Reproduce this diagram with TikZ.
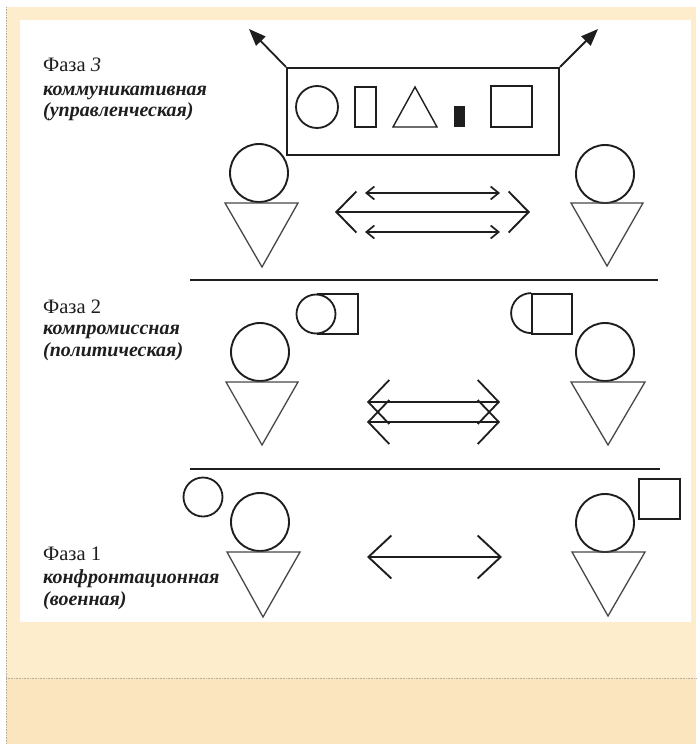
\documentclass[tikz,border=0pt]{standalone}
\usepackage{fontspec}
\setmainfont{Liberation Serif}
\usetikzlibrary{arrows.meta}
\definecolor{creamA}{HTML}{FEEDCD}
\definecolor{creamB}{HTML}{FBE5BF}
\definecolor{ink}{HTML}{1E1E1E}
\definecolor{trigray}{HTML}{474747}
\definecolor{frame}{HTML}{B8B0A0}
\begin{document}
\begin{tikzpicture}[x=1pt,y=-1pt,
  head/.style={circle,draw=ink,line width=1.9pt,fill=white,inner sep=0pt,minimum size=#1},
  head/.default=58pt,
  bodytri/.style={draw=trigray,line width=1.3pt,line join=miter},
  shp/.style={draw=ink,line width=1.8pt,inner sep=0pt},
  sepline/.style={draw=ink,line width=1.9pt},
  phase/.style={anchor=base west,inner sep=0pt,text=ink,font=\fontsize{20.5}{22}\selectfont},
  sub/.style={anchor=base west,inner sep=0pt,text=ink,font=\fontsize{20}{22}\selectfont\bfseries\itshape},
]
\useasboundingbox (0,0) rectangle (696,744);
% background
\fill[white] (0,0) rectangle (696,744);
\fill[creamA] (6,7) rectangle (696,678);
\fill[creamB] (6,678) rectangle (696,744);
\draw[frame,densely dotted,line width=0.6pt] (6,7) -- (6,744);
\draw[frame,densely dotted,line width=0.6pt] (6,678) -- (696,678);
\fill[white] (20,20) rectangle (691,622);

% ---------- labels ----------
\node[phase] (t3a) at (43,71) {Фаза \textit{3}};
\node[sub]   (t3b) at (43,95) {коммуникативная};
\node[sub]   (t3c) at (43,116) {(управленческая)};
\node[phase] (t2a) at (43,313) {Фаза 2};
\node[sub]   (t2b) at (43,334) {компромиссная};
\node[sub]   (t2c) at (43,356) {(политическая)};
\node[phase] (t1a) at (43,560) {Фаза 1};
\node[sub]   (t1b) at (43,583) {конфронтационная};
\node[sub]   (t1c) at (43,605) {(военная)};

% ---------- phase 3 ----------
\node[shp,line width=2.1pt,minimum width=272pt,minimum height=87pt] (box) at (423,111.5) {};
\coordinate (tipL) at (249,29);
\coordinate (tipR) at (598,29);
\draw[ink,line width=1.8pt,-{Triangle[length=17pt,width=13pt]}] (box.north west) -- (tipL);
\draw[ink,line width=1.8pt,-{Triangle[length=17pt,width=13pt]}] (box.north east) -- (tipR);
\node[shp,circle,minimum size=42pt] (b1) at (317,107) {};
\node[shp,minimum width=21pt,minimum height=40pt] (b2) at (365.5,107) {};
\coordinate (b3a) at (393,127); \coordinate (b3b) at (415,87); \coordinate (b3c) at (437,127);
\draw[draw=ink,line width=1.4pt] (b3a) -- (b3b) -- (b3c) -- cycle;
\node[fill=ink,inner sep=0pt,minimum width=11pt,minimum height=21pt] (b4) at (459,116) {};
\node[shp,minimum width=41pt,minimum height=41pt] (b5) at (511.5,106.5) {};

\node[head] (h3L) at (259,173) {};
\draw[bodytri] (225,203) -- (298,203) -- (262,267) -- cycle;
\node[head] (h3R) at (605,174) {};
\draw[bodytri] (571,203) -- (643,203) -- (607,266) -- cycle;

\coordinate (a3mL) at (335,212); \coordinate (a3mR) at (530,212);
\coordinate (a3tL) at (365,193); \coordinate (a3tR) at (500,193);
\coordinate (a3bL) at (365,232); \coordinate (a3bR) at (500,232);
\draw[ink,line width=1.9pt,{Straight Barb[length=20pt,width=41pt]}-{Straight Barb[length=20pt,width=41pt]}] (a3mL) -- (a3mR);
\draw[ink,line width=1.7pt,{Straight Barb[length=8pt,width=13pt]}-{Straight Barb[length=8pt,width=13pt]}] (a3tL) -- (a3tR);
\draw[ink,line width=1.7pt,{Straight Barb[length=8pt,width=13pt]}-{Straight Barb[length=8pt,width=13pt]}] (a3bL) -- (a3bR);

\coordinate (s1L) at (190,280); \coordinate (s1R) at (658,280);
\draw[sepline] (s1L) -- (s1R);

% ---------- phase 2 ----------
\node[shp,minimum width=40pt,minimum height=40pt] (q2L) at (338,314) {};
\node[shp,circle,fill=white,minimum size=39pt] (c2L) at (316,314) {};
\node[shp,minimum width=40pt,minimum height=40pt] (q2R) at (552,314) {};
\draw[ink,line width=1.8pt] (q2R.north west) arc[start angle=90,end angle=270,radius=20pt];

\node[head] (h2L) at (260,352) {};
\draw[bodytri] (226,382) -- (298,382) -- (262,445) -- cycle;
\node[head] (h2R) at (605,352) {};
\draw[bodytri] (571,382) -- (645,382) -- (608,445) -- cycle;

\coordinate (a2tL) at (367,402); \coordinate (a2tR) at (500,402);
\coordinate (a2bL) at (367,422); \coordinate (a2bR) at (500,422);
\draw[ink,line width=1.8pt,{Straight Barb[length=21pt,width=44pt]}-{Straight Barb[length=21pt,width=44pt]}] (a2tL) -- (a2tR);
\draw[ink,line width=1.8pt,{Straight Barb[length=21pt,width=44pt]}-{Straight Barb[length=21pt,width=44pt]}] (a2bL) -- (a2bR);

\coordinate (s2L) at (190,469); \coordinate (s2R) at (660,469);
\draw[sepline] (s2L) -- (s2R);

% ---------- phase 1 ----------
\node[shp,circle,minimum size=39pt] (c1L) at (203,497) {};
\node[shp,minimum width=41pt,minimum height=40pt] (q1R) at (659.5,499) {};
\node[head] (h1L) at (260,522) {};
\draw[bodytri] (227,552) -- (300,552) -- (263,617) -- cycle;
\node[head] (h1R) at (605,523) {};
\draw[bodytri] (572,552) -- (645,552) -- (608,616) -- cycle;

\coordinate (a1L) at (367,557); \coordinate (a1R) at (502,557);
\draw[ink,line width=1.9pt,{Straight Barb[length=23pt,width=43pt]}-{Straight Barb[length=23pt,width=43pt]}] (a1L) -- (a1R);
\end{tikzpicture}
\end{document}
